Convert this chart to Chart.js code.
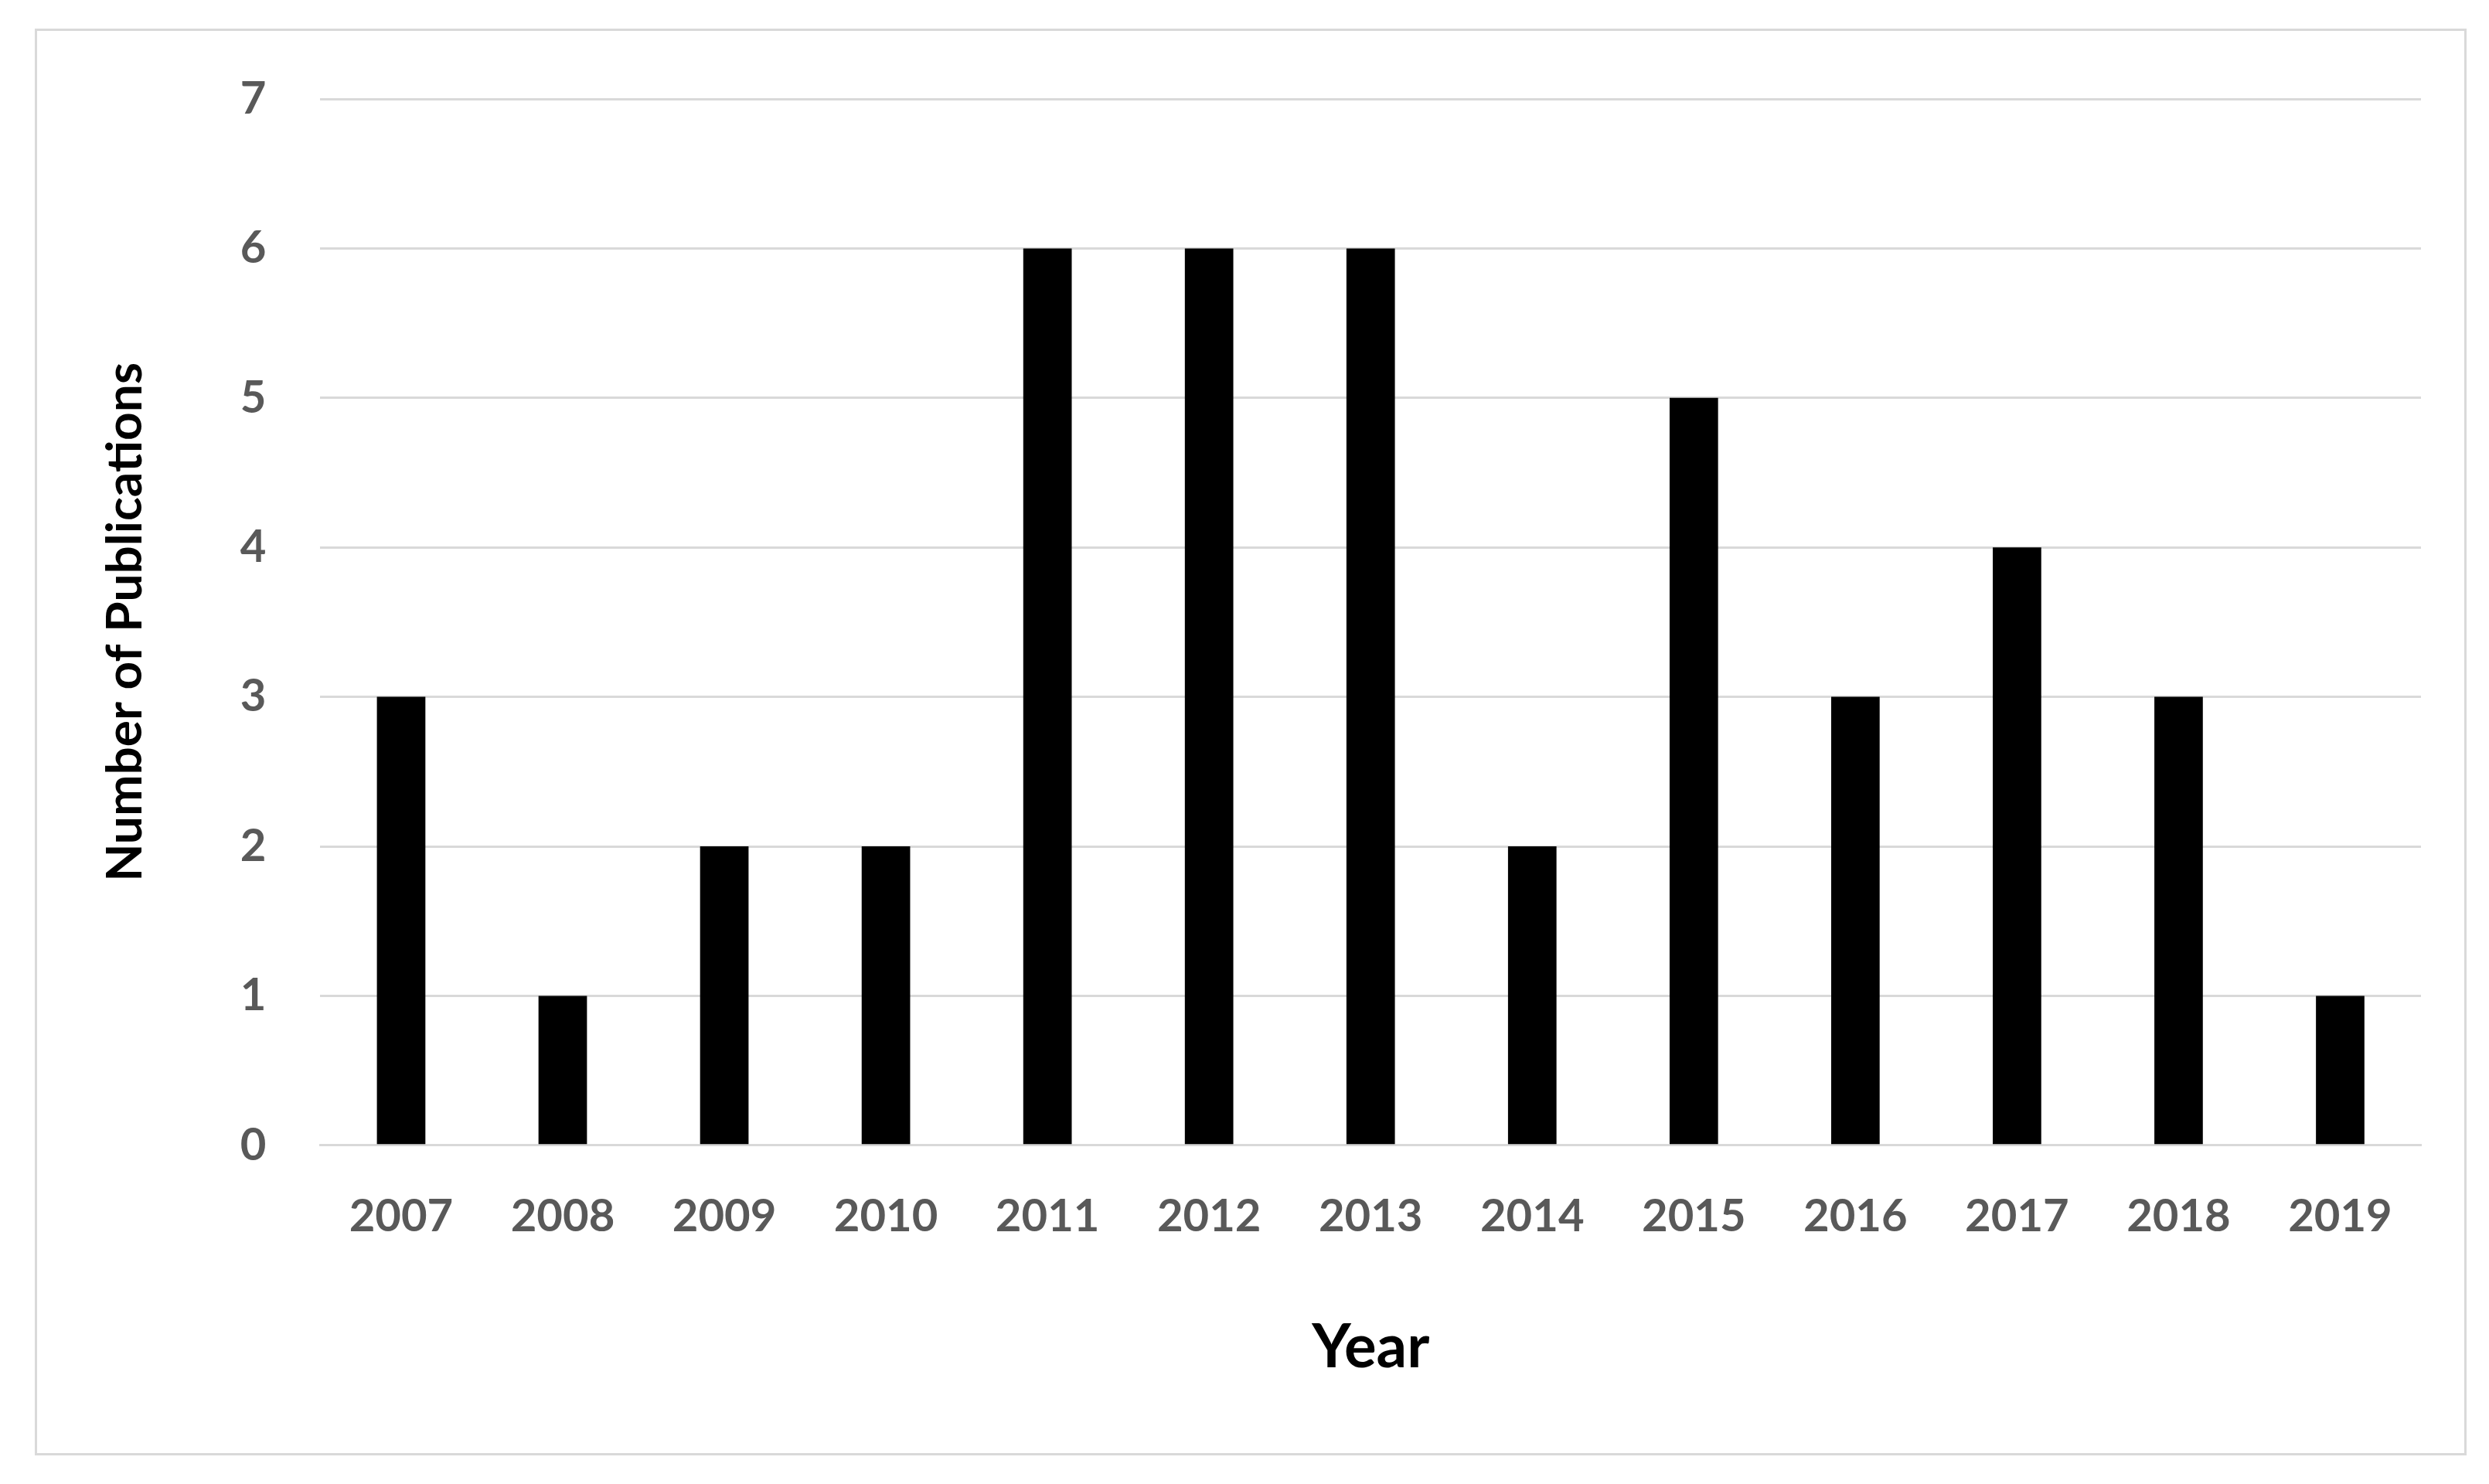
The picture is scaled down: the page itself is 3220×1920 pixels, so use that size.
<!DOCTYPE html>
<html>
<head>
<meta charset="UTF-8">
<script src="https://cdn.jsdelivr.net/npm/chart.js"></script>
<style>
    body { margin: 0; background: #fff; }
    .frame {
        position: absolute; left: 45px; top: 37px;
        width: 3140px; height: 1840px;
        border: 3px solid #d9d9d9;
    }
    #wrap { position: absolute; left: 0; top: 0; width: 3220px; height: 1920px; }
</style>
</head>
<body>
<div class="frame"></div>
<div id="wrap"><canvas id="pubChart" width="3220" height="1920"></canvas></div>
<script>
    const years = ['2007', '2008', '2009', '2010', '2011', '2012', '2013', '2014', '2015', '2016', '2017', '2018', '2019'];
    const publications = [3, 1, 2, 2, 6, 6, 6, 2, 5, 3, 4, 3, 1];
    const yTicks = [0, 1, 2, 3, 4, 5, 6, 7];

    const font = 'Lato, "Liberation Sans", sans-serif';

    new Chart(document.getElementById('pubChart'), {
        type: 'bar',
        data: {
            labels: years,
            datasets: [{
                data: publications,
                backgroundColor: '#000',
                categoryPercentage: 1,
                barPercentage: 0.3
            }]
        },
        options: {
            responsive: false,
            animation: false,
            layout: { padding: { left: 120, right: 88, top: 128, bottom: 125 } },
            plugins: { legend: { display: false }, tooltip: { enabled: false } },
            scales: {
                x: {
                    grid: { display: false },
                    border: { color: '#d9d9d9', width: 3 },
                    ticks: { color: '#595959', font: { family: font, size: 58, weight: 'bold' }, padding: 50 },
                    title: { display: true, text: 'Year', color: '#000', font: { family: font, size: 78, weight: 'bold' }, padding: { top: 38 } }
                },
                y: {
                    min: 0, max: 7,
                    afterBuildTicks: axis => { axis.ticks = yTicks.map(v => ({ value: v })); },
                    grid: { color: '#d9d9d9', lineWidth: 3, drawTicks: false },
                    border: { display: false },
                    ticks: { color: '#595959', font: { family: font, size: 58, weight: 'bold' }, padding: 70 },
                    title: { display: true, text: 'Number of Publications', color: '#000', font: { family: font, size: 64, weight: 'bold' }, padding: { bottom: 40 } }
                }
            }
        }
    });
</script>
</body>
</html>
